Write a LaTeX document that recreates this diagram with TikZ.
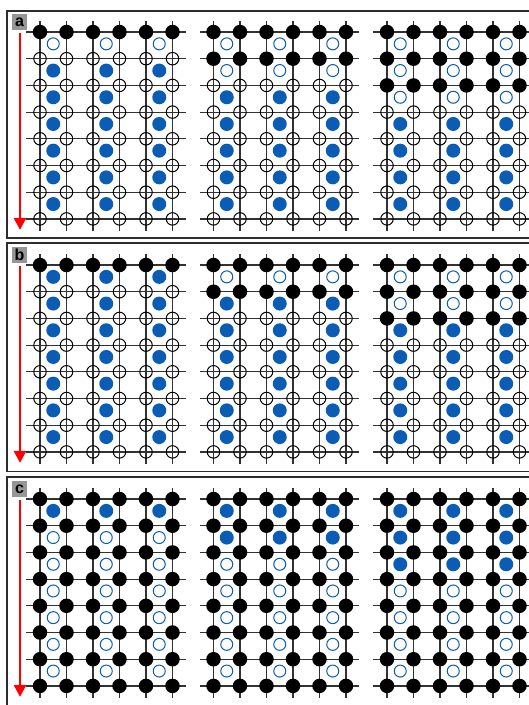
\documentclass[tikz,border=0pt]{standalone}
\usepackage{fontspec}
\setmainfont{Liberation Sans}
\usetikzlibrary{arrows.meta}
\definecolor{qblue}{RGB}{10,92,180}
\definecolor{framegray}{RGB}{45,45,45}
\definecolor{linegray}{RGB}{50,50,50}
\definecolor{taggray}{RGB}{150,150,150}
\tikzset{
  blackq/.style={circle,fill=black,inner sep=0pt,minimum size=14.5pt},
  openq/.style={circle,draw=black,line width=1pt,inner sep=0pt,minimum size=12.5pt},
  bluefull/.style={circle,fill=qblue,inner sep=0pt,minimum size=14pt},
  blueopen/.style={circle,draw=qblue,line width=1pt,inner sep=0pt,minimum size=12pt},
  gridline/.style={draw=linegray,line width=1.2pt},
  panelframe/.style={draw=framegray,line width=1.5pt,fill=white},
  tag/.style={fill=taggray,font=\bfseries\fontsize{16}{16}\selectfont,inner sep=0pt,minimum width=15pt,minimum height=16pt,text=black},
  flow/.style={draw=red,line width=2.8pt,-{Triangle[length=12pt,width=12pt]}}
}
\begin{document}
\begin{tikzpicture}[x=1pt,y=-1pt]
\useasboundingbox (0,0) rectangle (529,705);
% panel frames
\draw[panelframe] (7,11) rectangle (540,238);
\draw[panelframe] (7,243) rectangle (540,471.5);
\draw[panelframe] (7,477) rectangle (540,715);
% panels
\foreach \p/\py/\mode in {a/32/0,b/265/1,c/499/2}{
  \node[tag] (tag-\p) at (19.5,\py-10) {\p};
  \coordinate (top-\p) at (20,\py+1);
  \coordinate (bot-\p) at (20,\py+26.7*7+11);
  \draw[flow] (top-\p) -- (bot-\p);
  \foreach \g in {1,2,3}{
    \pgfmathsetmacro\gx{40+173.5*(\g-1)}
    % grid lines
    \foreach \r in {0,...,7}{
      \draw[gridline] (\gx-14,\py+26.7*\r) -- (\gx+26.5*5+13,\py+26.7*\r);
    }
    \foreach \k in {0,...,5}{
      \draw[gridline] (\gx+26.5*\k,\py-11) -- (\gx+26.5*\k,\py+26.7*7+12);
    }
    % lattice nodes
    \foreach \r in {0,...,7}{
      \foreach \k in {0,...,5}{
        \pgfmathtruncatemacro\isblack{(\mode==2) || (\r<\g) ? 1 : 0}
        \ifnum\isblack=1
          \node[blackq] (n-\p\g-\r-\k) at (\gx+26.5*\k,\py+26.7*\r) {};
        \else
          \node[openq] (n-\p\g-\r-\k) at (\gx+26.5*\k,\py+26.7*\r) {};
        \fi
      }
    }
    % blue sites
    \foreach \i in {0,...,6}{
      \foreach \c in {0,1,2}{
        \pgfmathtruncatemacro\isopen{(\mode==0 && \i<\g) || (\mode==1 && \i<\g-1) || (\mode==2 && \i>=\g) ? 1 : 0}
        \ifnum\isopen=1
          \node[blueopen] (s-\p\g-\i-\c) at (\gx+13.25+53*\c,\py+26.7*\i+11.85) {};
        \else
          \node[bluefull] (s-\p\g-\i-\c) at (\gx+13.25+53*\c,\py+26.7*\i+11.85) {};
        \fi
      }
    }
  }
}
\end{tikzpicture}
\end{document}
